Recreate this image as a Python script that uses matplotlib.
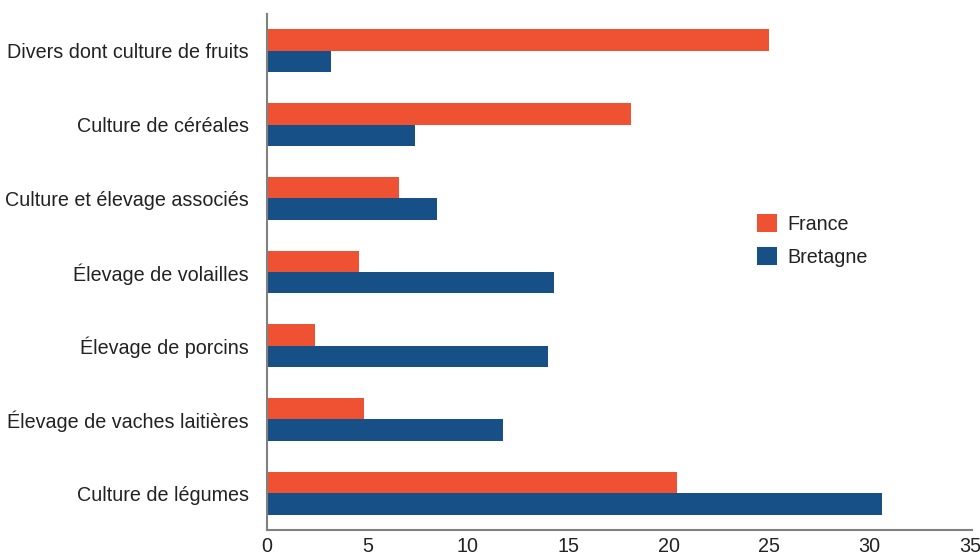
import numpy as np
import matplotlib
matplotlib.use('Agg')
import matplotlib.pyplot as plt

plt.rcParams['font.family'] = ['Liberation Sans', 'DejaVu Sans']

categories = ['Divers dont culture de fruits', 'Culture de céréales',
              'Culture et élevage associés', 'Élevage de volailles',
              'Élevage de porcins', 'Élevage de vaches laitières',
              'Culture de légumes']
france = [25.0, 18.1, 6.55, 4.6, 2.4, 4.85, 20.4]
bretagne = [3.2, 7.35, 8.45, 14.3, 14.0, 11.75, 30.6]
xticks = [0, 5, 10, 15, 20, 25, 30, 35]

orange = '#EF5233'
blue = '#174F87'
text_col = '#222222'

fig = plt.figure(figsize=(9.8, 5.6), dpi=100)
ax = fig.add_axes([0.2724, 0.0536, 0.7194, 0.9214])

y = np.arange(len(categories))
h = 0.29
ax.barh(y - h / 2, france, height=h, color=orange, label='France')
ax.barh(y + h / 2, bretagne, height=h, color=blue, label='Bretagne')

ax.set_ylim(len(categories) - 0.5, -0.5)
ax.set_xlim(0, 35.1)
ax.set_yticks(y)
ax.set_yticklabels(categories, fontsize=14.2, color=text_col)
ax.set_xticks(xticks)
ax.set_xticklabels([str(t) for t in xticks], fontsize=14.2, color=text_col)
ax.tick_params(axis='both', length=0)
ax.tick_params(axis='y', pad=13)
ax.tick_params(axis='x', pad=5)

for s in ['top', 'right']:
    ax.spines[s].set_visible(False)
for s in ['left', 'bottom']:
    ax.spines[s].set_color('#808080')
    ax.spines[s].set_linewidth(1.5)

leg = ax.legend(loc='upper left', bbox_to_anchor=(0.684, 0.627), frameon=False,
                fontsize=14.2, handlelength=1.0, handleheight=1.0,
                labelspacing=0.68, handletextpad=0.55, borderaxespad=0)
for t in leg.get_texts():
    t.set_color(text_col)

fig.savefig('out.png', dpi=100)
